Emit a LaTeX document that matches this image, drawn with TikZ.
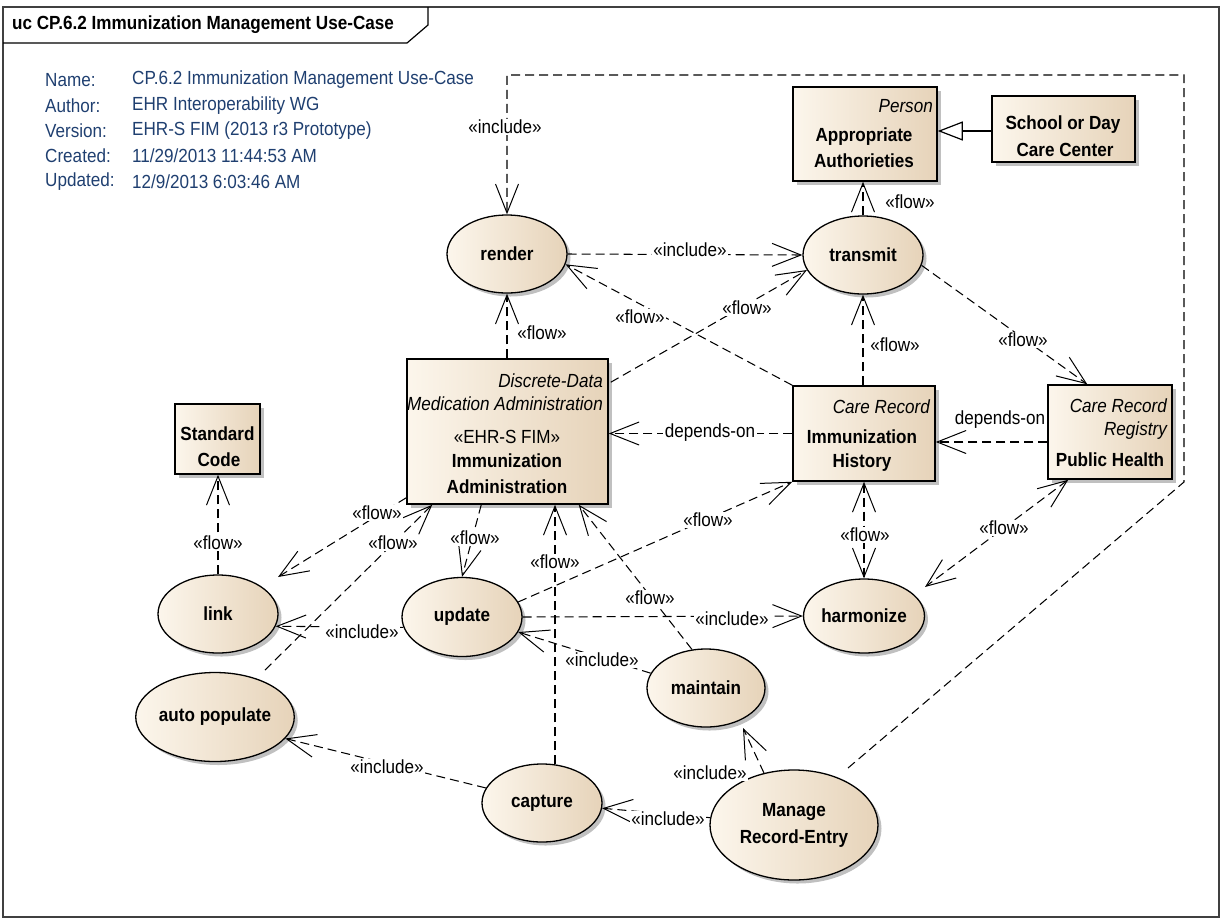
\documentclass[tikz,border=0pt]{standalone}
\usepackage{fontspec}
\setmainfont{Liberation Sans}[FakeStretch=0.9]
\usetikzlibrary{arrows.meta,shapes.geometric,shadows,calc}
\definecolor{fillL}{HTML}{FCF6EC}
\definecolor{fillR}{HTML}{E6D3B9}
\definecolor{infoblue}{HTML}{1F3F70}
\begin{document}
\begin{tikzpicture}[x=1pt,y=-1pt,
  font=\fontsize{19}{22}\selectfont,
  shd/.style={drop shadow={shadow xshift=3.5pt,shadow yshift=-3.5pt,fill=black!45,opacity=0.55}},
  uc/.style={ellipse,draw,line width=1.3pt,left color=fillL,right color=fillR,shd,inner sep=0pt,
    font=\fontsize{19}{22}\selectfont\bfseries},
  cls/.style={rectangle,draw,line width=1.5pt,left color=fillL,right color=fillR,shd,inner sep=0pt},
  bt/.style={inner sep=0pt,font=\fontsize{19}{22}\selectfont\bfseries},
  it/.style={inner sep=0pt,font=\fontsize{19}{22}\selectfont\itshape},
  rt/.style={inner sep=0pt},
  tip/.tip={Straight Barb[length=29pt,width=23pt,line width=1pt]},
  dep/.style={line width=1.05pt,dash pattern=on 9pt off 5pt,-tip},
  bidep/.style={line width=1.05pt,dash pattern=on 9pt off 5pt,tip-tip},
  lbl/.style={fill=white,inner sep=1.5pt},
  lbln/.style={inner sep=1.5pt},
  info/.style={anchor=west,inner sep=0pt,text=infoblue}
]
\useasboundingbox (0,0) rectangle (1225,919);
% frame
\draw[line width=1.4pt,black!75] (3,7) rectangle (1219,917);
\draw[line width=1.2pt] (3,43) -- (407,43) -- (428,25) -- (428,7);
\node[anchor=west,bt] (title) at (12,25) {uc CP.6.2 Immunization Management Use-Case};
% info
\node[info] (n1) at (45,80) {Name:};
\node[info] (n2) at (45,106) {Author:};
\node[info] (n3) at (45,131) {Version:};
\node[info] (n4) at (45,156) {Created:};
\node[info] (n5) at (45,182) {Updated:};
\node[info] (v1) at (132,80) {CP.6.2 Immunization Management Use-Case};
\node[info] (v2) at (132,106) {EHR Interoperability WG};
\node[info] (v3) at (132,131) {EHR-S FIM (2013 r3 Prototype)};
\node[info] (v4) at (132,156) {11/29/2013 11:44:53 AM};
\node[info] (v5) at (132,182) {12/9/2013 6:03:46 AM};

% classes
\node[cls,minimum width=144pt,minimum height=94pt] (auth) at (865,134) {};
\node[it,anchor=east] (authS) at (933,106) {Person};
\node[bt] (authA) at (864,137) {Appropriate};
\node[bt] (authB) at (864,161) {Authorieties};

\node[cls,minimum width=143pt,minimum height=66pt] (school) at (1063.5,129) {};
\node[bt] (schoolA) at (1063,125) {School or Day};
\node[bt] (schoolB) at (1065,150) {Care Center};

\node[cls,minimum width=201pt,minimum height=145pt] (disc) at (507.5,431.5) {};
\node[it,anchor=east] (discS1) at (603,381) {Discrete-Data};
\node[it,anchor=east] (discS2) at (603,404) {Medication Administration};
\node[rt] (discS3) at (507,437) {«EHR-S FIM»};
\node[bt] (discA) at (507,461) {Immunization};
\node[bt] (discB) at (507,487) {Administration};

\node[cls,minimum width=142pt,minimum height=95pt] (hist) at (864,433.5) {};
\node[it,anchor=east] (histS) at (930,407) {Care Record};
\node[bt] (histA) at (862,437) {Immunization};
\node[bt] (histB) at (862,463) {History};

\node[cls,minimum width=124pt,minimum height=94pt] (ph) at (1110,432) {};
\node[it,anchor=east] (phS1) at (1167,406) {Care Record};
\node[it,anchor=east] (phS2) at (1167,431) {Registry};
\node[bt] (phA) at (1110,460) {Public Health};

\node[cls,minimum width=85pt,minimum height=70pt] (std) at (217.5,439) {};
\node[bt] (stdA) at (217.5,434) {Standard};
\node[bt] (stdB) at (219,460) {Code};

% use cases
\node[uc,minimum width=120pt,minimum height=78pt] (render) at (507,254) {render};
\node[uc,minimum width=120pt,minimum height=78pt] (transmit) at (863,255) {transmit};
\node[uc,minimum width=120pt,minimum height=78pt] (link) at (218,614) {link};
\node[uc,minimum width=120pt,minimum height=79pt] (update) at (462,617) {update};
\node[uc,minimum width=118pt,minimum height=74pt] (harm) at (864,616) {harmonize};
\node[uc,minimum width=136pt,minimum height=89pt] (auto) at (215,717) {auto populate};
\node[uc,minimum width=118pt,minimum height=78pt] (maint) at (706,688) {maintain};
\node[uc,minimum width=120pt,minimum height=78pt] (capt) at (542,803) {capture};
\node[uc,minimum width=168pt,minimum height=110pt,align=center,
  font=\fontsize{19}{27}\selectfont\bfseries] (manage) at (794,825) {Manage\\Record-Entry};

% generalization
\draw[line width=1.2pt,-{Triangle[open,length=25pt,width=19pt,fill=white]}] (school.west |- 0,131) -- (auth.east |- 0,131);

% connectors
\coordinate (k1) at (1184,482);
\coordinate (k2) at (1184,75);
\coordinate (k3) at (507,75);
\draw[dep] ($(manage.center)+(54,-57)$) -- (k1) -- (k2) -- (k3) -- (render.north);
\draw[dep] (render.east) -- (transmit.west);
\draw[dep,xshift=0.5pt] (disc.north -| render.south) -- (render.south);
\draw[dep] (hist.north west) -- (render.-10);
\draw[dep] ($(disc.north east)+(2,24)$) -- (transmit.195);
\draw[dep,xshift=0.5pt] (transmit.north) -- (transmit.north |- auth.south);
\draw[dep,xshift=0.5pt] (hist.north -| transmit.south) -- (transmit.south);
\draw[dep] (transmit.-10) -- ($(ph.north west)+(40,0)$);
\draw[dep] (hist.west) -- (hist.west -| disc.east);
\draw[dep] ($(ph.west)+(0,10)$) -- ($(hist.east)+(0,8.5)$);
\draw[bidep,xshift=0.5pt] (hist.south) -- (harm.north);
\draw[bidep] ($(ph.south west)+(21,0)$) -- ($(harm.center)+(61,-29)$);
\draw[dep,xshift=0.5pt] (link.north) -- (link.north |- std.south);
\draw[dep] ($(disc.south west)+(0,-7)$) -- ($(link.center)+(60,-37)$);
\draw[dep] ($(auto.center)+(50,-47)$) -- ($(disc.south west)+(26,0)$);
\draw[dep] ($(disc.south west)+(75,0)$) -- (update.north);
\draw[dep] (update.190) -- (link.-12);
\draw[dep,xshift=0.5pt] ($(capt.north)+(13,1)$) -- ($(capt.north |- disc.south)+(13,0)$);
\draw[dep] (maint.110) -- ($(disc.south east)+(-30,0)$);
\draw[dep] (update.15) -- (hist.south west);
\draw[dep] (update.east) -- (harm.west);
\draw[dep] (maint.165) -- (update.-15);
\draw[dep] (capt.165) -- (auto.-17);
\draw[dep] (manage.175) -- (capt.-5);
\draw[dep] (manage.120) -- ($(maint.center)+(37,40)$);

% labels
\node[lbl] (L1) at (505,127) {«include»};
\node[lbl] (L2) at (690,250) {«include»};
\node[lbln] (L3) at (542,333) {«flow»};
\node[lbl] (L4) at (640,317) {«flow»};
\node[lbl] (L5) at (747,308) {«flow»};
\node[lbln] (L6) at (910,202) {«flow»};
\node[lbln] (L7) at (895,345) {«flow»};
\node[lbl] (L8) at (1023,340) {«flow»};
\node[lbl] (L9) at (710,433) {depends-on};
\node[lbln] (L10) at (1000,420) {depends-on};
\node[lbl] (L11) at (865,535) {«flow»};
\node[lbl] (L12) at (1004,528) {«flow»};
\node[lbl] (L13) at (218,543) {«flow»};
\node[lbl] (L14) at (377,513) {«flow»};
\node[lbl] (L15) at (393,543) {«flow»};
\node[lbl] (L16) at (475,538) {«flow»};
\node[lbl] (L17) at (362,632) {«include»};
\node[lbl] (L18) at (555,562) {«flow»};
\node[lbl] (L19) at (650,598) {«flow»};
\node[lbl] (L20) at (708,520) {«flow»};
\node[lbl] (L21) at (732,619) {«include»};
\node[lbl] (L22) at (602,660) {«include»};
\node[lbl] (L23) at (387,767) {«include»};
\node[lbl] (L24) at (668,819) {«include»};
\node[lbl] (L25) at (710,773) {«include»};
\end{tikzpicture}
\end{document}
